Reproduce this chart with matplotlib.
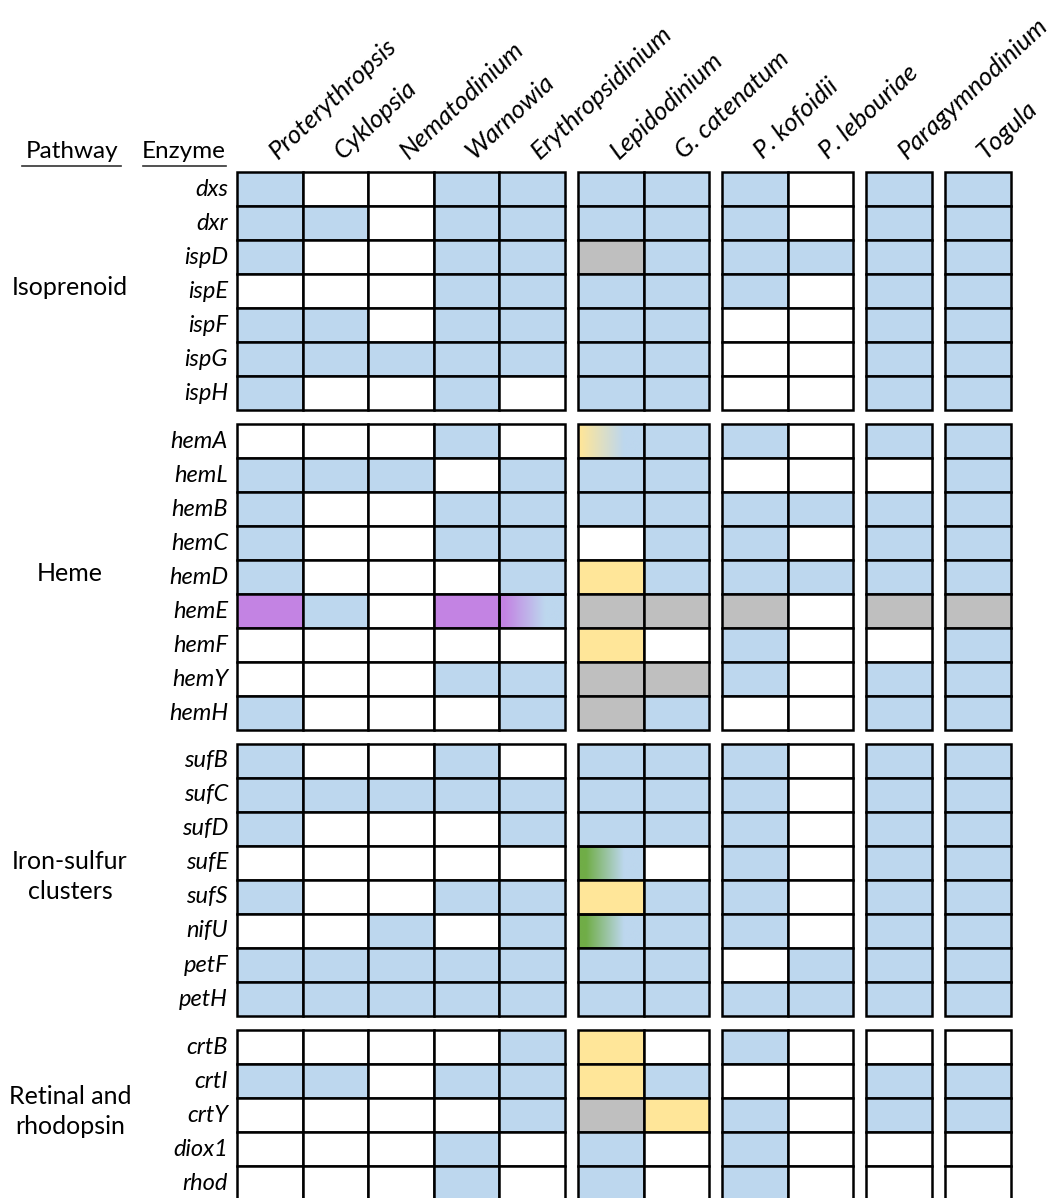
import numpy as np
import matplotlib
matplotlib.use("Agg")
import matplotlib.pyplot as plt
from matplotlib.patches import Rectangle
from matplotlib.colors import to_rgb

# ---------------- data ----------------
taxa = ["Proterythropsis", "Cyklopsia", "Nematodinium", "Warnowia", "Erythropsidinium",
        "Lepidodinium", "G. catenatum", "P. kofoidii", "P. lebouriae", "Paragymnodinium", "Togula"]
taxon_group = [0, 0, 0, 0, 0, 1, 1, 2, 2, 3, 4]

pathways = ["Isoprenoid", "Heme", "Iron-sulfur\nclusters", "Retinal and\nrhodopsin"]
enzymes = [
    ["dxs", "dxr", "ispD", "ispE", "ispF", "ispG", "ispH"],
    ["hemA", "hemL", "hemB", "hemC", "hemD", "hemE", "hemF", "hemY", "hemH"],
    ["sufB", "sufC", "sufD", "sufE", "sufS", "nifU", "petF", "petH"],
    ["crtB", "crtI", "crtY", "diox1", "rhod"],
]
# status codes: 0 absent, 1 present, 2 gray, 3 yellow, 4 purple,
# 5 yellow->blue, 6 purple->blue, 7 green->blue
isoprenoid = [
    [1, 0, 0, 1, 1, 1, 1, 1, 0, 1, 1],
    [1, 1, 0, 1, 1, 1, 1, 1, 0, 1, 1],
    [1, 0, 0, 1, 1, 2, 1, 1, 1, 1, 1],
    [0, 0, 0, 1, 1, 1, 1, 1, 0, 1, 1],
    [1, 1, 0, 1, 1, 1, 1, 0, 0, 1, 1],
    [1, 1, 1, 1, 1, 1, 1, 0, 0, 1, 1],
    [1, 0, 0, 1, 0, 1, 1, 0, 0, 1, 1],
]
heme = [
    [0, 0, 0, 1, 0, 5, 1, 1, 0, 1, 1],
    [1, 1, 1, 0, 1, 1, 1, 0, 0, 0, 1],
    [1, 0, 0, 1, 1, 1, 1, 1, 1, 1, 1],
    [1, 0, 0, 1, 1, 0, 1, 1, 0, 1, 1],
    [1, 0, 0, 0, 1, 3, 1, 1, 1, 1, 1],
    [4, 1, 0, 4, 6, 2, 2, 2, 0, 2, 2],
    [0, 0, 0, 0, 0, 3, 0, 1, 0, 0, 1],
    [0, 0, 0, 1, 1, 2, 2, 1, 0, 1, 1],
    [1, 0, 0, 0, 1, 2, 1, 0, 0, 1, 1],
]
iron_sulfur = [
    [1, 0, 0, 1, 0, 1, 1, 1, 0, 1, 1],
    [1, 1, 1, 1, 1, 1, 1, 1, 0, 1, 1],
    [1, 0, 0, 0, 1, 1, 1, 1, 0, 1, 1],
    [0, 0, 0, 0, 0, 7, 0, 1, 0, 1, 1],
    [1, 0, 0, 1, 1, 3, 1, 1, 0, 1, 1],
    [0, 0, 1, 0, 1, 7, 1, 1, 0, 1, 1],
    [1, 1, 1, 1, 1, 1, 1, 0, 1, 1, 1],
    [1, 1, 1, 1, 1, 1, 1, 1, 1, 1, 1],
]
retinal = [
    [0, 0, 0, 0, 1, 3, 0, 1, 0, 0, 0],
    [1, 1, 0, 1, 1, 3, 1, 0, 0, 1, 1],
    [0, 0, 0, 0, 1, 2, 3, 1, 0, 1, 1],
    [0, 0, 0, 1, 0, 1, 0, 1, 0, 0, 0],
    [0, 0, 0, 1, 0, 1, 0, 1, 0, 0, 0],
]
sections = [isoprenoid, heme, iron_sulfur, retinal]

# ---------------- style ----------------
BLUE = "#BDD7EE"
GRAY = "#BFBFBF"
YELLOW = "#FFE699"
PURPLE = "#C383E3"
GREEN = "#70AD47"
solid = {0: "white", 1: BLUE, 2: GRAY, 3: YELLOW, 4: PURPLE}
gradient = {5: (YELLOW, 0.03, 0.70), 6: (PURPLE, 0.08, 0.70), 7: (GREEN, 0.12, 0.70)}

plt.rcParams["font.family"] = ["Lato", "DejaVu Sans"]
FS_ENZ = 17
FS_PATH = 18
FS_TAXA = 18.5
FS_HEAD = 17.5

W, H = 1055, 1198
CW, RH = 65.6, 34.0          # cell size in pixels
X0, Y0 = 237, 172            # top-left of grid in pixels
GAPC, GAPR = 13 / CW, 14 / RH

fig = plt.figure(figsize=(W / 100, H / 100), dpi=100)
ax = fig.add_axes([0, 0, 1, 1])
xlim = (-X0 / CW, (W - X0) / CW)
ylim = ((H - Y0) / RH, -Y0 / RH)


def px_x(p):
    return (p - X0) / CW


def px_y(p):
    return (p - Y0) / RH


col_x = [i + g * GAPC for i, g in enumerate(taxon_group)]

row = 0
for s, data in enumerate(sections):
    ytop = row + s * GAPR
    for r, vals in enumerate(data):
        y = ytop + r
        for c, v in enumerate(vals):
            x = col_x[c]
            if v in gradient:
                c1, a, b = gradient[v]
                t = np.linspace(0, 1, 200)
                w = np.clip((t - a) / (b - a), 0, 1)[:, None]
                arr = (np.array(to_rgb(c1)) * (1 - w) + np.array(to_rgb(BLUE)) * w)[None, :, :]
                ax.imshow(arr, extent=(x, x + 1, y + 1, y), aspect="auto",
                          interpolation="bilinear", zorder=1)
                ax.add_patch(Rectangle((x, y), 1, 1, fc="none", ec="black", lw=1.8, zorder=2))
            else:
                ax.add_patch(Rectangle((x, y), 1, 1, fc=solid[v], ec="black", lw=1.8, zorder=2))
        ax.text(px_x(228), y + 0.5, enzymes[s][r], ha="right", va="center",
                fontsize=FS_ENZ, style="italic")
    ax.text(px_x(70), ytop + len(data) / 2 - 0.1, pathways[s], ha="center", va="center",
            fontsize=FS_PATH, linespacing=1.4)
    row += len(data)

for c, name in enumerate(taxa):
    ax.text(col_x[c] + 0.62, px_y(160), name, rotation=43, rotation_mode="anchor",
            ha="left", va="baseline", fontsize=FS_TAXA, style="italic")

ax.text(px_x(72), px_y(152), "Pathway", ha="center", va="center", fontsize=FS_HEAD)
ax.text(px_x(184), px_y(152), "Enzyme", ha="center", va="center", fontsize=FS_HEAD)
ax.plot([px_x(22), px_x(121)], [px_y(166)] * 2, color="#333333", lw=1.2)
ax.plot([px_x(143), px_x(226)], [px_y(166)] * 2, color="#333333", lw=1.2)

ax.set_xlim(*xlim)
ax.set_ylim(*ylim)
ax.axis("off")
fig.savefig("out.png", dpi=100)
